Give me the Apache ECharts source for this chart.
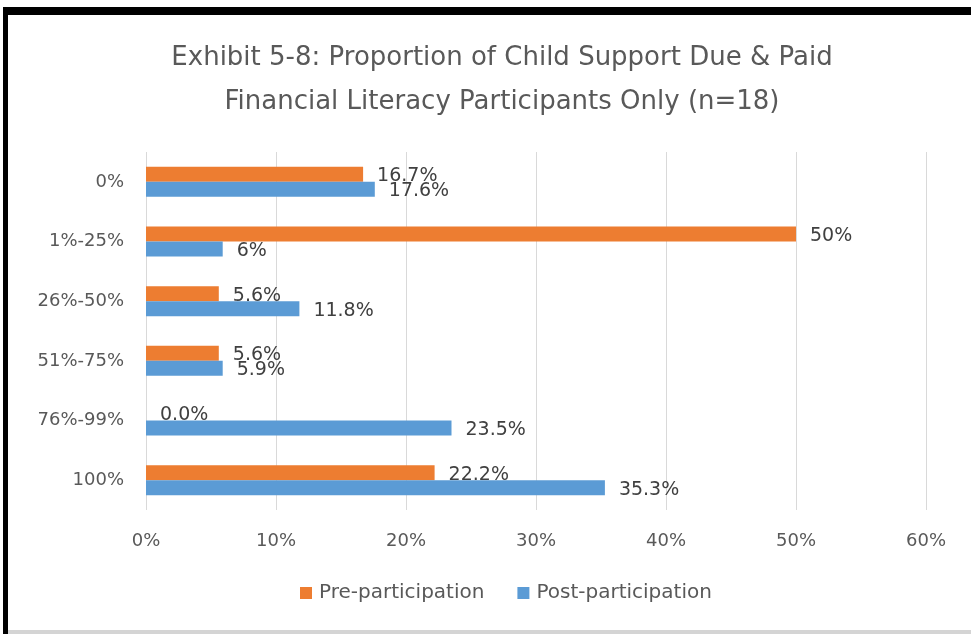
<!DOCTYPE html>
<html>
<head>
<meta charset="utf-8">
<script src="https://cdn.jsdelivr.net/npm/echarts@6/dist/echarts.min.js"></script>
<style>
html,body{margin:0;padding:0;background:#fff;}
#wrap{position:relative;width:971px;height:634px;overflow:hidden;background:#fff;}
#chart{position:absolute;left:0;top:0;width:971px;height:634px;}
.bt{position:absolute;left:3px;top:7px;width:968px;height:8px;background:#000;}
.bl{position:absolute;left:3px;top:7px;width:5px;height:627px;background:#000;}
.bb{position:absolute;left:8px;top:630px;width:963px;height:4px;background:#d4d4d4;}
</style>
</head>
<body>
<div id="wrap">
<div id="chart"></div>
<div class="bt"></div><div class="bl"></div><div class="bb"></div>
</div>
<script>
const titleLines = ["Exhibit 5-8: Proportion of Child Support Due & Paid", "Financial Literacy Participants Only (n=18)"];
const categories = ["0%", "1%-25%", "26%-50%", "51%-75%", "76%-99%", "100%"];
const seriesNames = ["Pre-participation", "Post-participation"];
const preValues = [16.7, 50, 5.6, 5.6, 0, 22.2];
const postValues = [17.6, 5.9, 11.8, 5.9, 23.5, 35.3];
const preLabels = ["16.7%", "50%", "5.6%", "5.6%", "0.0%", "22.2%"];
const postLabels = ["17.6%", "6%", "11.8%", "5.9%", "23.5%", "35.3%"];
const xTicks = [0, 10, 20, 30, 40, 50, 60];

const FONT = "DejaVu Sans";
const chart = echarts.init(document.getElementById('chart'), null, {renderer: 'canvas'});
function mkLabel(labels) {
  return {
    show: true, position: 'right', distance: 14, offset: [0, 2],
    color: '#404040', fontSize: 19, fontFamily: FONT,
    formatter: p => labels[p.dataIndex]
  };
}
chart.setOption({
  backgroundColor: '#ffffff',
  animation: false,
  title: {
    text: titleLines.join('\n'),
    left: 497, top: 31, textAlign: 'center',
    textStyle: {color: '#595959', fontSize: 26, fontWeight: 'normal', fontFamily: FONT, lineHeight: 44}
  },
  legend: {
    data: seriesNames,
    left: 295, top: 578,
    itemWidth: 12, itemHeight: 12, itemGap: 33,
    icon: 'rect',
    textStyle: {color: '#595959', fontSize: 20, fontFamily: FONT, padding: [0, 0, 0, 2]}
  },
  grid: {left: 146, right: 45, top: 152, bottom: 124, containLabel: false},
  xAxis: {
    type: 'value', min: xTicks[0], max: xTicks[xTicks.length - 1], interval: 10,
    axisLabel: {formatter: v => v + '%', color: '#595959', fontSize: 18, fontFamily: FONT, margin: 22},
    axisLine: {show: false}, axisTick: {show: false},
    splitLine: {show: true, lineStyle: {color: '#d9d9d9', width: 1}}
  },
  yAxis: {
    type: 'category', data: categories, inverse: true,
    axisLabel: {color: '#595959', fontSize: 18, fontFamily: FONT, margin: 22},
    axisLine: {show: false}, axisTick: {show: false}
  },
  series: [
    {name: seriesNames[0], type: 'bar', data: preValues, barWidth: 15, barGap: '0%',
     itemStyle: {color: '#ED7D31'}, label: mkLabel(preLabels)},
    {name: seriesNames[1], type: 'bar', data: postValues, barWidth: 15, barGap: '0%',
     itemStyle: {color: '#5B9BD5'}, label: mkLabel(postLabels)}
  ]
});
</script>
</body>
</html>
